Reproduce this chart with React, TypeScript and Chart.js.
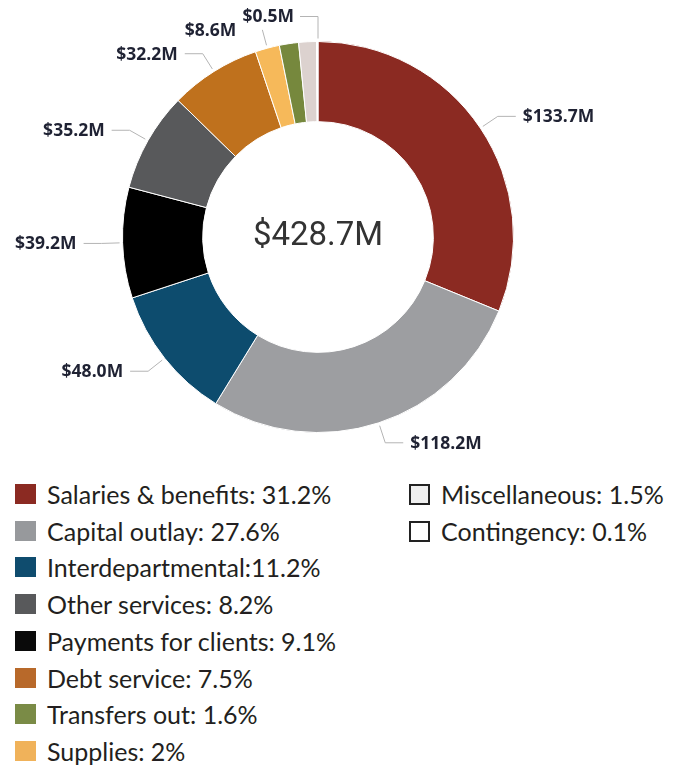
import React, { useEffect, useRef } from "react";
import { Chart, registerables } from "chart.js";

Chart.register(...registerables);

// ---- data ----
const categories = [
  "Salaries & benefits",
  "Capital outlay",
  "Interdepartmental",
  "Payments for clients",
  "Other services",
  "Debt service",
  "Supplies",
  "Transfers out",
  "Miscellaneous",
  "Contingency",
];
const values = [133.7, 118.2, 48.0, 39.2, 35.2, 32.2, 8.6, 6.8, 6.3, 0.5];
const sliceColors = [
  "#8B2A22",
  "#9D9EA1",
  "#0D4C6E",
  "#000000",
  "#58595B",
  "#BF711D",
  "#F6B95A",
  "#76883D",
  "#DCD2CF",
  "#FFFFFF",
];
const showLabel = [true, true, true, true, true, true, true, false, false, true];
const centerLabel = "$428.7M";

// legend (text as printed)
const legendCol1 = [
  "Salaries & benefits: 31.2%",
  "Capital outlay: 27.6%",
  "Interdepartmental:11.2%",
  "Other services: 8.2%",
  "Payments for clients: 9.1%",
  "Debt service: 7.5%",
  "Transfers out: 1.6%",
  "Supplies: 2%",
];
const legendCol1Colors = ["#8B2A22", "#97999C", "#0F4C6E", "#58595B", "#0A0A0A", "#B8692A", "#7A8B46", "#F0B25A"];
const legendCol2 = ["Miscellaneous: 1.5%", "Contingency: 0.1%"];
const legendCol2Colors = ["#EFEFEF", "#FFFFFF"];

// leader-line layout per slice: [radial length, horizontal length, text gap, angle override (deg from top) or null]
const leaderLayout: (number | null)[][] = [
  [18, 18, 7, null],
  [18, 18, 7, null],
  [18, 18, 7, null],
  [18, 18, 7, null],
  [18, 18, 7, null],
  [18, 18, 7, null],
  [16, 0, 26, null],
  [0, 0, 0, null],
  [0, 0, 0, null],
  [22, 18, 6, 0],
];

const leaderPlugin = {
  id: "leaders",
  afterDatasetsDraw(chart: any) {
    const ctx = chart.ctx;
    const meta = chart.getDatasetMeta(0);
    ctx.save();
    meta.data.forEach((arc: any, i: number) => {
      if (!showLabel[i]) return;
      const p = arc.getProps(["x", "y", "startAngle", "endAngle", "outerRadius"], true);
      const [l1, l2, gap, ovr] = leaderLayout[i] as any[];
      const mid = ovr !== null && ovr !== undefined ? (ovr * Math.PI) / 180 - Math.PI / 2 : (p.startAngle + p.endAngle) / 2;
      const dx = Math.cos(mid);
      const dy = Math.sin(mid);
      const r0 = p.outerRadius + 3;
      const ax = p.x + dx * r0;
      const ay = p.y + dy * r0;
      const ex = ax + dx * l1;
      const ey = ay + dy * l1;
      const side = dx >= -0.001 && ovr === null ? 1 : -1;
      const hx = ex + side * l2;
      ctx.strokeStyle = "#B4B4B4";
      ctx.lineWidth = 1;
      ctx.beginPath();
      ctx.moveTo(ax, ay);
      ctx.lineTo(ex, ey);
      ctx.lineTo(hx, ey);
      ctx.stroke();
      ctx.fillStyle = "#1F2233";
      ctx.font = "bold 17.5px 'Open Sans'";
      ctx.textBaseline = "middle";
      ctx.textAlign = side > 0 ? "left" : "right";
      ctx.fillText("$" + values[i].toFixed(1) + "M", hx + side * gap, ey + 1);
    });
    // center total
    const a0 = meta.data[0];
    ctx.fillStyle = "#333333";
    ctx.font = "33px Roboto";
    ctx.textAlign = "center";
    ctx.textBaseline = "middle";
    ctx.fillText(centerLabel, a0.x, a0.y);
    ctx.restore();
  },
};

function Legend() {
  const rowY = (i: number) => 494 + i * 36.7;
  const item = (label: string, color: string, x: number, y: number, outlined: boolean, key: string) => (
    <div key={key}>
      <div
        style={{
          position: "absolute",
          left: x,
          top: y - 10,
          width: outlined ? 17 : 21,
          height: outlined ? 17 : 20,
          background: color,
          border: outlined ? "2px solid #222" : "none",
        }}
      />
      <div
        style={{
          position: "absolute",
          left: x + 32,
          top: y - 16,
          height: 32,
          lineHeight: "32px",
          fontFamily: "Lato",
          fontSize: 25,
          color: "#231F20",
          whiteSpace: "nowrap",
        }}
      >
        {label}
      </div>
    </div>
  );
  return (
    <>
      {legendCol1.map((l, i) => item(l, legendCol1Colors[i], 15, rowY(i), false, "a" + i))}
      {legendCol2.map((l, i) => item(l, legendCol2Colors[i], 409, rowY(i), true, "b" + i))}
    </>
  );
}

export default function App() {
  const ref = useRef<HTMLCanvasElement | null>(null);
  useEffect(() => {
    if (!ref.current) return;
    const chart = new Chart(ref.current, {
      type: "doughnut",
      data: {
        labels: categories,
        datasets: [
          {
            data: values,
            backgroundColor: sliceColors,
            borderColor: "#FFFFFF",
            borderWidth: 1,
            hoverOffset: 0,
          },
        ],
      },
      options: {
        animation: false,
        responsive: false,
        cutout: "59%",
        layout: { padding: { left: 122, right: 169, top: 41, bottom: 37 } },
        plugins: { legend: { display: false }, tooltip: { enabled: false } },
      },
      plugins: [leaderPlugin],
    });
    return () => chart.destroy();
  }, []);
  return (
    <div style={{ position: "absolute", left: 0, top: 0, width: 683, height: 767, background: "#fff" }}>
      <canvas ref={ref} width={683} height={470} style={{ position: "absolute", left: 0, top: 0 }} />
      <Legend />
    </div>
  );
}
